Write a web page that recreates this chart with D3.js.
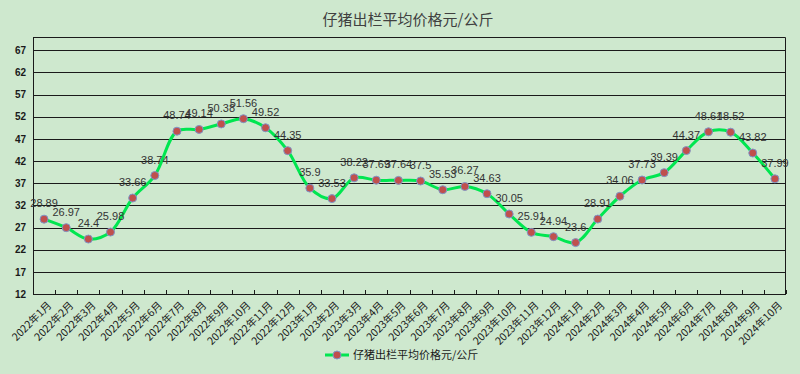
<!DOCTYPE html>
<html>
<head>
<meta charset="utf-8">
<script src="https://cdn.jsdelivr.net/npm/d3@7"></script>
<style>
  html, body { margin: 0; padding: 0; background: #cee8ce; }
  svg { display: block; font-family: "Noto Sans CJK SC", "DejaVu Sans", sans-serif; }
</style>
</head>
<body>
<svg id="chart" width="800" height="374"></svg>
<script>
const title = '仔猪出栏平均价格元/公斤';
const seriesName = '仔猪出栏平均价格元/公斤';

const months = [
  '2022年1月', '2022年2月', '2022年3月', '2022年4月', '2022年5月', '2022年6月',
  '2022年7月', '2022年8月', '2022年9月', '2022年10月', '2022年11月', '2022年12月',
  '2023年1月', '2023年2月', '2023年3月', '2023年4月', '2023年5月', '2023年6月',
  '2023年7月', '2023年8月', '2023年9月', '2023年10月', '2023年11月', '2023年12月',
  '2024年1月', '2024年2月', '2024年3月', '2024年4月', '2024年5月', '2024年6月',
  '2024年7月', '2024年8月', '2024年9月', '2024年10月'
];

const prices = [
  28.89, 26.97, 24.4, 25.98, 33.66, 38.74, 48.74, 49.14, 50.38, 51.56, 49.52, 44.35,
  35.9, 33.53, 38.22, 37.69, 37.64, 37.5, 35.53, 36.27, 34.63, 30.05, 25.91, 24.94,
  23.6, 28.91, 34.06, 37.73, 39.39, 44.37, 48.61, 48.52, 43.82, 37.99
];

const yTicks = [12, 17, 22, 27, 32, 37, 42, 47, 52, 57, 62, 67];

const svg = d3.select('#chart');
const margin = { top: 37, right: 14, bottom: 80, left: 33 };
const width = +svg.attr('width') - margin.left - margin.right;
const height = +svg.attr('height') - margin.top - margin.bottom;

const data = months.map((m, i) => ({ month: m, value: prices[i] }));

const x = d3.scaleBand().domain(months).range([0, width]);
const y = d3.scaleLinear().domain([12, 70]).range([height, 0]);

svg.append('text')
  .attr('x', 408)
  .attr('y', 25)
  .attr('text-anchor', 'middle')
  .attr('font-size', 15)
  .attr('fill', '#404040')
  .text(title);

const g = svg.append('g')
  .attr('transform', 'translate(' + margin.left + ',' + margin.top + ')');

// gridlines
g.append('g')
  .selectAll('line')
  .data(yTicks.slice(1))
  .enter()
  .append('line')
  .attr('x1', 0)
  .attr('x2', width)
  .attr('y1', d => Math.round(y(d)) + 0.5)
  .attr('y2', d => Math.round(y(d)) + 0.5)
  .attr('stroke', '#1a1a1a')
  .attr('stroke-width', 1);

// plot frame top / right
g.append('path')
  .attr('d', 'M0,0.5H' + (width - 0.5) + 'V' + height)
  .attr('fill', 'none')
  .attr('stroke', '#1a1a1a');

// y axis
const yAxis = g.append('g')
  .call(d3.axisLeft(y).tickValues(yTicks).tickSize(0).tickPadding(7));
yAxis.select('.domain').attr('stroke', '#1a1a1a');
yAxis.selectAll('text')
  .attr('font-size', 10)
  .attr('font-weight', 'bold')
  .attr('fill', '#1a1a1a')
  .attr('font-family', '"Liberation Sans", Arial, sans-serif');

// x axis with inside ticks at category boundaries
const xAxis = g.append('g')
  .attr('transform', 'translate(0,' + height + ')');
xAxis.append('line')
  .attr('x1', 0).attr('x2', width)
  .attr('y1', 0.5).attr('y2', 0.5)
  .attr('stroke', '#1a1a1a');
xAxis.selectAll('line.tick')
  .data(months)
  .enter()
  .append('line')
  .attr('class', 'tick')
  .attr('x1', d => Math.round(x(d) + x.bandwidth()) + 0.5)
  .attr('x2', d => Math.round(x(d) + x.bandwidth()) + 0.5)
  .attr('y1', -4)
  .attr('y2', 0)
  .attr('stroke', '#1a1a1a');

xAxis.selectAll('text')
  .data(months)
  .enter()
  .append('text')
  .attr('transform', d => 'translate(' + (x(d) + x.bandwidth() / 2 + 8) + ',12) rotate(-45)')
  .attr('text-anchor', 'end')
  .attr('font-size', 10.5)
  .attr('fill', '#1a1a1a')
  .text(d => d);

// line
const line = d3.line()
  .x(d => x(d.month) + x.bandwidth() / 2)
  .y(d => y(d.value))
  .curve(d3.curveCatmullRom.alpha(0.5));

g.append('path')
  .datum(data)
  .attr('d', line)
  .attr('fill', 'none')
  .attr('stroke', '#00e650')
  .attr('stroke-width', 3);

g.append('g')
  .selectAll('circle')
  .data(data)
  .enter()
  .append('circle')
  .attr('cx', d => x(d.month) + x.bandwidth() / 2)
  .attr('cy', d => y(d.value))
  .attr('r', 4)
  .attr('fill', '#c0504d')
  .attr('stroke', '#7f95c8')
  .attr('stroke-width', 1);

g.append('g')
  .selectAll('text')
  .data(data)
  .enter()
  .append('text')
  .attr('x', d => x(d.month) + x.bandwidth() / 2)
  .attr('y', d => y(d.value) - 12)
  .attr('text-anchor', 'middle')
  .attr('font-size', 11)
  .attr('fill', '#333')
  .attr('font-family', '"Liberation Sans", Arial, sans-serif')
  .text(d => d.value);

// legend
const legend = svg.append('g').attr('transform', 'translate(325,355)');
legend.append('line')
  .attr('x1', 0).attr('x2', 24)
  .attr('stroke', '#00e650')
  .attr('stroke-width', 3);
legend.append('circle')
  .attr('cx', 12)
  .attr('r', 4)
  .attr('fill', '#c0504d')
  .attr('stroke', '#7f95c8');
legend.append('text')
  .attr('x', 28)
  .attr('dy', '0.35em')
  .attr('font-size', 11)
  .attr('fill', '#1a1a1a')
  .text(seriesName);
</script>
</body>
</html>
